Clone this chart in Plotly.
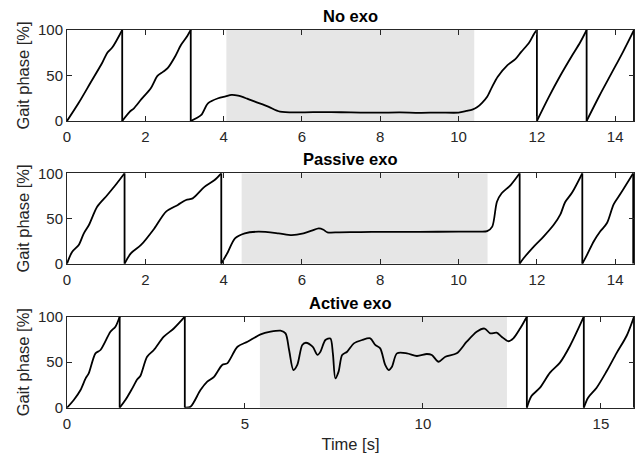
import plotly.graph_objects as go

# ---------------- data ----------------
titles = ["No exo", "Passive exo", "Active exo"]

t_noexo = [0, 0.3, 0.6, 0.9, 1.03, 1.16, 1.41, 1.41,
           1.6, 1.71, 1.9, 2.14, 2.31, 2.45, 2.57, 2.75, 2.91, 3.05, 3.16, 3.16,
           3.3, 3.43, 3.6, 3.86, 4.05, 4.2, 4.37, 4.6, 4.8, 5.14, 5.44, 6.0, 6.5, 7.0, 7.5,
           8.0, 8.5, 9.0, 9.5, 10.0, 10.2, 10.35, 10.47, 10.6, 10.73, 10.85, 11.0, 11.25, 11.45, 11.6, 11.8, 11.93, 12.0, 12.0,
           12.3, 12.6, 12.9, 13.1, 13.27, 13.27,
           13.6, 13.9, 14.2, 14.48, 14.48]
p_noexo = [0, 20, 42, 64, 75, 81, 100, 0,
           10, 14, 24, 36, 49.5, 54, 58, 70, 83.5, 92, 100, 0,
           3, 6.6, 19.4, 25, 27, 28.6, 27.8, 24.5, 21.2, 15.8, 10.3, 9.5, 9.8, 9.6, 9.2,
           9.2, 9.4, 9.0, 9.3, 9.2, 11, 12.5, 15, 20, 26.7, 37, 48.7, 61.5, 68, 76, 86, 96, 100, 0,
           26, 50, 72, 86, 100, 0,
           28, 52, 76, 100, 0]

t_passive = [0, 0.13, 0.3, 0.43, 0.56, 0.77, 1.03, 1.24, 1.47, 1.47,
             1.63, 1.89, 2.23, 2.53, 2.83, 3.04, 3.21, 3.51, 3.77, 3.94, 3.94,
             4.11, 4.29, 4.54, 4.89, 5.4, 5.74, 6.04, 6.25, 6.43, 6.55, 6.65, 6.95, 7.5, 8.0, 9.0, 10.0, 10.5, 10.73,
             10.86, 10.98, 11.1, 11.33, 11.56, 11.56,
             11.66, 11.92, 12.17, 12.43, 12.6, 12.72, 12.9, 13.16, 13.16,
             13.28, 13.45, 13.62, 13.79, 13.96, 14.13, 14.46, 14.46]
p_passive = [0, 13, 20.7, 33.6, 42.8, 63, 76, 87, 100, 0,
             11.4, 20.7, 39, 57.6, 65, 70.5, 72.3, 85, 92.6, 100, 0,
             13, 28, 33.6, 35.4, 33.6, 31.7, 33.6, 36.5, 39, 37.5, 34.7, 34.7, 35, 35.2, 35.3, 35.4, 35.5, 36,
             41, 68.6, 77.9, 87, 100, 0,
             6, 19, 30, 43, 54.5, 68, 78.7, 100, 0,
             9.7, 24.6, 35.8, 45, 65.7, 77, 100, 0]

t_active = [0, 0.19, 0.38, 0.52, 0.61, 0.8, 0.94, 1.22, 1.36, 1.48, 1.48,
            1.64, 1.83, 1.97, 2.06, 2.25, 2.44, 2.72, 3.0, 3.31, 3.31,
            3.47, 3.75, 3.94, 4.13, 4.36, 4.5, 4.79, 5.07, 5.44, 5.72, 6.0, 6.14, 6.24, 6.36, 6.47, 6.61, 6.71,
            6.9, 7.04, 7.12, 7.26, 7.4, 7.47, 7.54, 7.63, 7.73, 7.87, 8.06, 8.29, 8.52, 8.66, 8.8, 8.94, 9.04,
            9.13, 9.27, 9.55, 9.83, 10.11, 10.25, 10.44, 10.63, 10.95, 11.23, 11.51, 11.73, 11.89, 12.07, 12.21,
            12.4, 12.54, 12.73, 12.92, 12.92,
            13.05, 13.29, 13.57, 13.85, 14.13, 14.52, 14.52,
            14.64, 14.88, 15.16, 15.44, 15.72, 15.93, 15.93]
p_active = [0, 8.4, 19.4, 32, 37.7, 59.7, 63.4, 83.5, 89, 100, 0,
            8.4, 21, 31, 34.8, 56, 63.4, 78, 87, 100, 0,
            1, 19.4, 28.6, 34, 47, 48.7, 67, 72.5, 80.6, 83.5, 84.6, 81.7, 63.4, 41.4, 47, 69, 71.4,
            67, 58, 61.5, 74.4, 76, 59.7, 32.2, 39.6, 57.9, 61.5, 70.7, 74.4, 76.2, 69, 65.2, 47, 41.4,
            45, 59.7, 59.7, 56.8, 59, 57.9, 50.5, 56, 59.7, 72.5, 83.5, 87, 81.7, 82.4, 78,
            73, 76.2, 87, 100, 0,
            12.8, 22, 38.5, 49.5, 67.8, 100, 0,
            11, 22, 40, 60, 78.8, 100, 0]

shade_start = [4.07, 4.46, 5.42]
shade_end = [10.40, 10.74, 12.36]
x_max = [14.48, 14.48, 15.93]
x_ticks = [[0, 2, 4, 6, 8, 10, 12, 14], [0, 2, 4, 6, 8, 10, 12, 14], [0, 5, 10, 15]]
y_ticks = [0, 50, 100]

# ---------------- figure ----------------
W, H = 640, 453
ml, mr, mt, mb = 67, 6, 30, 45
ph = H - mt - mb
panel_px = [(30, 121), (173.3, 263.7), (316.7, 407.7)]
domains = [[(H - mb - b) / ph, (H - mb - t) / ph] for t, b in panel_px]

fig = go.Figure()
series = [(t_noexo, p_noexo), (t_passive, p_passive), (t_active, p_active)]
FONT = "Liberation Sans, Arial, sans-serif"
AX = "#262626"


def split(t, p):
    """Split a sawtooth series at its vertical resets: smooth parts + drop lines."""
    sx, sy, dx, dy = [], [], [], []
    for k in range(len(t)):
        if k > 0 and t[k] == t[k - 1]:
            sx += [None, t[k]]; sy += [None, p[k]]
            dx += [t[k - 1], t[k], None]; dy += [p[k - 1], p[k], None]
        else:
            sx.append(t[k]); sy.append(p[k])
    return sx, sy, dx, dy


for i, (t, p) in enumerate(series):
    n = "" if i == 0 else str(i + 1)
    sx, sy, dx, dy = split(t, p)
    fig.add_trace(go.Scatter(x=sx, y=sy, mode="lines", xaxis="x" + n, yaxis="y" + n,
                             line=dict(color="black", width=1.8, shape="spline", smoothing=0.8),
                             connectgaps=False, showlegend=False))
    fig.add_trace(go.Scatter(x=dx, y=dy, mode="lines", xaxis="x" + n, yaxis="y" + n,
                             line=dict(color="black", width=1.8), showlegend=False))
    fig.add_shape(type="rect", xref="x" + n, yref="y" + n,
                  x0=shade_start[i], x1=shade_end[i], y0=0, y1=100,
                  fillcolor="#e6e6e6", line=dict(width=0), layer="below")
    xa = dict(domain=[0, 1], range=[0, x_max[i]], anchor="y" + n, automargin=False,
              tickvals=x_ticks[i], ticks="inside", ticklen=5, tickcolor=AX,
              showline=True, linecolor=AX, linewidth=1, mirror="ticks",
              showgrid=False, zeroline=False, ticklabelstandoff=2,
              tickfont=dict(family=FONT, size=15, color=AX))
    ya = dict(domain=domains[i], range=[0, 100], anchor="x" + n, automargin=False,
              tickvals=y_ticks, ticks="inside", ticklen=5, tickcolor=AX,
              showline=True, linecolor=AX, linewidth=1, mirror="ticks",
              showgrid=False, zeroline=False,
              tickfont=dict(family=FONT, size=15, color=AX),
              title=dict(text="Gait phase [%]", font=dict(family=FONT, size=16.5, color=AX), standoff=4))
    if i == 2:
        xa["title"] = dict(text="Time [s]", font=dict(family=FONT, size=16.5, color=AX), standoff=10)
    fig.layout["xaxis" + n] = xa
    fig.layout["yaxis" + n] = ya
    fig.add_annotation(text="<b>" + titles[i] + "</b>", xref="paper", yref="paper",
                       x=0.5, y=domains[i][1], xanchor="center", yanchor="bottom", yshift=3,
                       showarrow=False, font=dict(family=FONT, size=16.5, color="black"))

fig.update_layout(width=W, height=H, margin=dict(l=ml, r=mr, t=mt, b=mb),
                  paper_bgcolor="white", plot_bgcolor="white")
fig.write_html("out.html")
